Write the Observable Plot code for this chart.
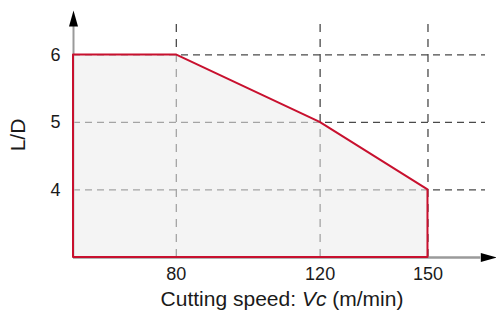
<!DOCTYPE html>
<html>
<head>
<meta charset="utf-8">
<script src="https://cdn.jsdelivr.net/npm/d3@7"></script>
<script src="https://cdn.jsdelivr.net/npm/@observablehq/plot@0.6"></script>
<style>
  html, body { margin: 0; padding: 0; background: #fff; }
  svg text { font-family: 'Liberation Sans', Arial, sans-serif; font-variant: normal; }
</style>
</head>
<body>
<div id="chart"></div>
<script>
// Data
const speeds = [51.4, 80, 120, 150];   // cutting speed Vc (m/min), first = left edge of plot
const ldMax = [6, 6, 5, 4];            // maximum L/D
const ldMin = 3;                        // baseline of the area
const xTicks = [80, 120, 150];
const yTicks = [4, 5, 6];
const xLabelParts = ["Cutting speed: ", "Vc", " (m/min)"];
const yLabel = "L/D";

const xDomain = [51.4, 166];
const yDomain = [3, 6.45];
const xAxisEnd = 164.7, yAxisEnd = 6.42;

const rows = speeds.map((s, i) => ({x: s, y2: ldMax[i]}));

const arrowUp = {draw(ctx) { ctx.moveTo(0, -16); ctx.lineTo(4.5, 0); ctx.lineTo(-4.5, 0); ctx.closePath(); }};
const arrowRight = {draw(ctx) { ctx.moveTo(16, 0); ctx.lineTo(0, 4.5); ctx.lineTo(0, -4.5); ctx.closePath(); }};

const red = "#c8102e";
const font = "'Liberation Sans', Arial, sans-serif";

const chart = Plot.plot({
  width: 496,
  height: 320,
  marginLeft: 73,
  marginRight: 11,
  marginTop: 24,
  marginBottom: 63,
  style: {fontFamily: font, fontSize: "18px", color: "#1a1a1a", background: "#fff"},
  x: {domain: xDomain},
  y: {domain: yDomain},
  marks: [
    Plot.ruleX(xTicks, {y1: yDomain[0], y2: yDomain[1], stroke: "#4a4a4a", strokeWidth: 1.3, strokeDasharray: "8,7"}),
    Plot.ruleY(yTicks, {x1: xDomain[0], x2: xDomain[1], stroke: "#4a4a4a", strokeWidth: 1.3, strokeDasharray: "7,5"}),
    Plot.ruleY([ldMin], {x1: xDomain[0], x2: xAxisEnd, stroke: "#9a9a9a", strokeWidth: 2.5}),
    Plot.ruleX([xDomain[0]], {y1: ldMin, y2: yAxisEnd, stroke: "#9a9a9a", strokeWidth: 2}),
    Plot.dot([{x: xAxisEnd, y: ldMin}], {x: "x", y: "y", symbol: arrowRight, fill: "black", stroke: "none"}),
    Plot.dot([{x: xDomain[0], y: yAxisEnd}], {x: "x", y: "y", symbol: arrowUp, fill: "black", stroke: "none"}),
    Plot.areaY(rows, {x: "x", y1: ldMin, y2: "y2", fill: "#ebebeb", fillOpacity: 0.56, stroke: red, strokeWidth: 2}),
    Plot.axisX(xTicks, {tickSize: 0, tickPadding: 10, label: null, fontSize: 18, fontFamily: font, fontVariant: "normal", tickFormat: d3.format("d")}),
    Plot.axisY(yTicks, {tickSize: 0, tickPadding: 13, label: null, fontSize: 18, fontFamily: font, fontVariant: "normal", tickFormat: d3.format("d")})
  ]
});

const svg = d3.select(chart);
// y-axis title
svg.append("text")
  .attr("transform", "translate(18,135) rotate(-90)")
  .attr("text-anchor", "middle")
  .attr("dy", "0.35em")
  .attr("font-size", 21)
  .attr("fill", "#1a1a1a")
  .text(yLabel);
// x-axis title with italic "Vc"
const t = svg.append("text")
  .attr("x", 282).attr("y", 306)
  .attr("text-anchor", "middle")
  .attr("font-size", 21)
  .attr("fill", "#1a1a1a");
xLabelParts.forEach((p, i) => {
  const ts = t.append("tspan").text(p);
  if (i === 1) ts.attr("font-style", "italic");
});

document.getElementById("chart").appendChild(chart);
</script>
</body>
</html>
